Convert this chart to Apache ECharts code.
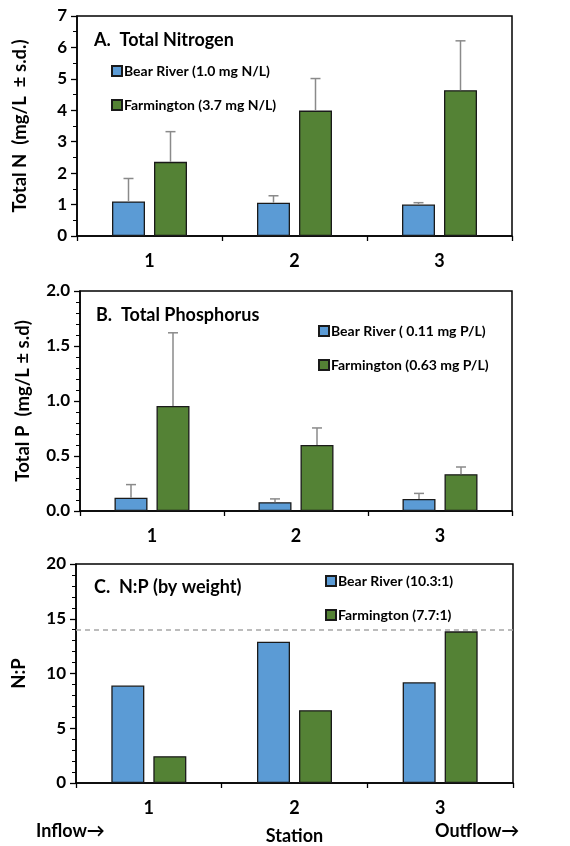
<!DOCTYPE html>
<html>
 <head>
  <meta charset="utf-8" />
  <title>Nutrients by station</title>
  <script src="https://cdn.jsdelivr.net/npm/echarts@6/dist/echarts.min.js"></script>
  <style>
   html, body { margin: 0; padding: 0; background: #fff; }
  </style>
 </head>
 <body>
  <div id="main" style="width: 570px;height:846px;"></div>
  <script type="text/javascript">

    // data
    var stations = ['1', '2', '3'];

    var nBear = [1.10, 1.06, 1.00];
    var nBearSd = [0.73, 0.22, 0.06];
    var nFarm = [2.36, 3.99, 4.64];
    var nFarmSd = [0.96, 1.02, 1.57];

    var pBear = [0.12, 0.08, 0.11];
    var pBearSd = [0.12, 0.03, 0.05];
    var pFarm = [0.955, 0.60, 0.335];
    var pFarmSd = [0.665, 0.155, 0.065];

    var npBear = [8.9, 12.9, 9.2];
    var npFarm = [2.45, 6.65, 13.85];
    var npRef = 14;

    var legendN = ['Bear River (1.0 mg N/L)', 'Farmington (3.7 mg N/L)'];
    var legendP = ['Bear River ( 0.11 mg P/L)', 'Farmington (0.63 mg P/L)'];
    var legendNP = ['Bear River (10.3:1)', 'Farmington (7.7:1)'];

    var FONT = 'Lato';
    var BLUE = '#5b9bd5';
    var GREEN = '#548235';
    var BAR_W = 33;
    var BAR_GAP = 9;
    var OFF = (BAR_W + BAR_GAP) / 2;

    var myChart = echarts.init(document.getElementById('main'));

    function errSeries(idx, mean, sd, offset) {
        var d = mean.map(function (m, i) { return [i, m, m + sd[i]]; });
        return {
            type: 'custom',
            xAxisIndex: idx,
            yAxisIndex: idx,
            z: 5,
            silent: true,
            data: d,
            renderItem: function (params, api) {
                var b = api.coord([api.value(0), api.value(1)]);
                var t = api.coord([api.value(0), api.value(2)]);
                var x = b[0] + offset;
                var st = { stroke: '#8a8a8a', lineWidth: 1.5 };
                return {
                    type: 'group',
                    children: [
                        { type: 'line', shape: { x1: x, y1: b[1], x2: x, y2: t[1] }, style: st },
                        { type: 'line', shape: { x1: x - 5, y1: t[1], x2: x + 5, y2: t[1] }, style: st }
                    ]
                };
            }
        };
    }

    function barSeries(idx, name, data, color) {
        return {
            type: 'bar',
            name: name,
            xAxisIndex: idx,
            yAxisIndex: idx,
            data: data,
            barWidth: BAR_W,
            barGap: (BAR_GAP / BAR_W * 100) + '%',
            itemStyle: { color: color, borderColor: '#1a1a1a', borderWidth: 1.3 }
        };
    }

    function xAx(idx, extra) {
        var a = {
            type: 'category',
            gridIndex: idx,
            data: stations,
            axisLine: { lineStyle: { color: '#000', width: 1.5 } },
            axisTick: { show: true, length: 5, lineStyle: { color: '#000', width: 1.3 } },
            axisLabel: { color: '#000', fontFamily: FONT, fontWeight: 'bold', fontSize: 18, margin: 16 }
        };
        for (var k in extra) a[k] = extra[k];
        return a;
    }

    function yAx(idx, max, interval, minor, name, fmt) {
        return {
            type: 'value',
            gridIndex: idx,
            min: 0,
            max: max,
            interval: interval,
            name: name,
            nameLocation: 'middle',
            nameGap: 47,
            nameTextStyle: { color: '#000', fontFamily: FONT, fontWeight: 'bold', fontSize: 18.5 },
            axisLine: { show: true, lineStyle: { color: '#000', width: 1.5 } },
            axisTick: { show: true, length: 6, lineStyle: { color: '#000', width: 1.3 } },
            minorTick: { show: true, splitNumber: minor, length: 4, lineStyle: { color: '#000', width: 1 } },
            splitLine: { show: false },
            axisLabel: { color: '#000', fontFamily: FONT, fontWeight: 'bold', fontSize: 17, margin: 10, formatter: fmt }
        };
    }

    function legendAt(names, left, top) {
        return {
            data: names,
            orient: 'vertical',
            left: left,
            top: top,
            itemWidth: 10,
            itemHeight: 10,
            itemGap: 20,
            icon: 'rect',
            textStyle: { color: '#000', fontFamily: FONT, fontWeight: 'bold', fontSize: 14, padding: [0, 0, 0, -3] }
        };
    }

    function titleAt(text, left, top) {
        return {
            text: text,
            left: left,
            top: top,
            textStyle: { color: '#000', fontFamily: FONT, fontWeight: 'bold', fontSize: 18 }
        };
    }

    var gridStyle = { show: true, borderColor: '#000', borderWidth: 1.5 };

    myChart.setOption({
        animation: false,
        title: [
            titleAt('A.  Total Nitrogen', 89, 26),
            titleAt('B.  Total Phosphorus', 91, 301),
            titleAt('C.  N:P (by weight)', 89, 573)
        ],
        legend: [
            legendAt(legendN, 106, 59),
            legendAt(legendP, 313, 319),
            legendAt(legendNP, 320, 569)
        ],
        grid: [
            Object.assign({ left: 77, right: 58, top: 16, height: 220 }, gridStyle),
            Object.assign({ left: 80, right: 58, top: 291, height: 220 }, gridStyle),
            Object.assign({ left: 76, right: 57, top: 564, height: 221 }, gridStyle)
        ],
        xAxis: [
            xAx(0, {}),
            xAx(1, {}),
            xAx(2, {
                name: 'Station',
                nameLocation: 'middle',
                nameGap: 44,
                nameTextStyle: { color: '#000', fontFamily: FONT, fontWeight: 'bold', fontSize: 18 }
            })
        ],
        yAxis: [
            yAx(0, 7, 1, 2, 'Total N  (mg/L  \u00b1 s.d.)', function (v) { return v; }),
            yAx(1, 2, 0.5, 5, 'Total P  (mg/L \u00b1 s.d)', function (v) { return v.toFixed(1); }),
            yAx(2, 20, 5, 5, 'N:P', function (v) { return v; })
        ],
        graphic: [
            { type: 'text', left: 36, top: 822, style: { text: 'Inflow\u2192', fill: '#000', font: 'bold 18px ' + FONT } },
            { type: 'text', left: 435, top: 822, style: { text: 'Outflow\u2192', fill: '#000', font: 'bold 18px ' + FONT } }
        ],
        series: [
            barSeries(0, legendN[0], nBear, BLUE),
            barSeries(0, legendN[1], nFarm, GREEN),
            errSeries(0, nBear, nBearSd, -OFF),
            errSeries(0, nFarm, nFarmSd, OFF),

            barSeries(1, legendP[0], pBear, BLUE),
            barSeries(1, legendP[1], pFarm, GREEN),
            errSeries(1, pBear, pBearSd, -OFF),
            errSeries(1, pFarm, pFarmSd, OFF),

            Object.assign(barSeries(2, legendNP[0], npBear, BLUE), {
                markLine: {
                    silent: true,
                    symbol: 'none',
                    label: { show: false },
                    lineStyle: { color: '#a6a6a6', type: [5, 4], width: 1.5 },
                    data: [{ yAxis: npRef }]
                }
            }),
            barSeries(2, legendNP[1], npFarm, GREEN)
        ]
    });
</script>
 </body>
</html>
